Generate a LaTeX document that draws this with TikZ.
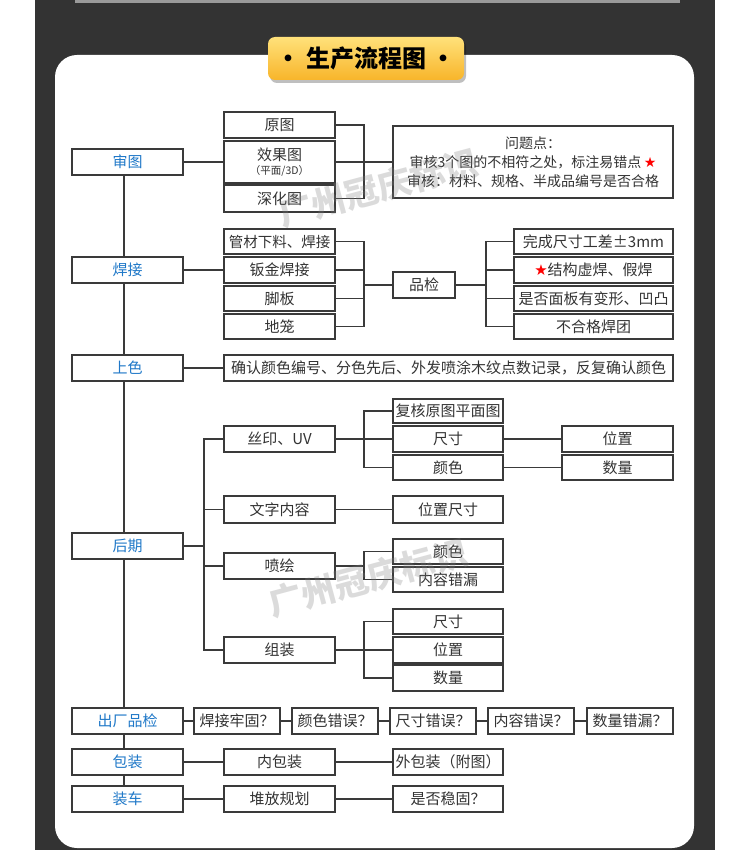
\documentclass[tikz,border=0pt]{standalone}
\usepackage{fontspec}
\setmainfont{Noto Sans CJK SC}
\newfontfamily\symfont{DejaVu Sans}
\definecolor{darkbg}{HTML}{333333}
\definecolor{linec}{HTML}{3A3A3A}
\definecolor{textc}{HTML}{333333}
\definecolor{bluec}{HTML}{1F78C8}
\definecolor{badgetop}{HTML}{FFE17A}
\definecolor{badgebot}{HTML}{F8B52A}
\definecolor{stripc}{HTML}{9A9A9A}
\newcommand{\rstar}{{\symfont\color{red}★}}
\tikzset{
  box/.style={draw=linec, line width=1.3pt, fill=white, minimum width=111pt, minimum height=26pt, inner sep=0pt, text=textc, font=\fontsize{15}{17}\selectfont},
  mainbox/.style={box, text=bluec},
  sbox/.style={box, minimum width=86pt},
  conn/.style={draw=linec, line width=1.3pt},
  wmark/.style={text=gray, opacity=0.28, font=\fontsize{34}{36}\selectfont\bfseries, rotate=15}
}
\begin{document}
\begin{tikzpicture}[x=1pt,y=-1pt]
\useasboundingbox (0,0) rectangle (750,850);
\fill[darkbg] (35,0) rectangle (715,850);
\fill[stripc] (75,0) rectangle (680,3);
\fill[white, rounded corners=22pt] (55,55) rectangle (694,848);
% badge
\fill[black, opacity=0.25, rounded corners=7pt] (270,40) rectangle (466,83);
\shade[top color=badgetop, bottom color=badgebot, rounded corners=7pt] (268,37) rectangle (464,80);
\node[font=\fontsize{24}{26}\selectfont\bfseries, text=black] (title) at (366,58.5) {·\ 生产流程图\ ·};

% coordinates
\coordinate (spx) at (124,0);
\coordinate (b1) at (364,162);
\coordinate (b2) at (364,285);
\coordinate (b3) at (486,285);
\coordinate (b4) at (204,546);
\coordinate (b5) at (364,439);
\coordinate (b6) at (364,566);
\coordinate (b7) at (364,650);

% main column
\node[mainbox] (shentu) at (127.5,162) {审图};
\node[mainbox] (hanjie) at (127.5,270) {焊接};
\node[mainbox] (shangse) at (127.5,368) {上色};
\node[mainbox] (houqi) at (127.5,546) {后期};
\node[mainbox] (chuchang) at (127.5,721) {出厂品检};
\node[mainbox] (baozhuang) at (127.5,762) {包装};
\node[mainbox] (zhuangche) at (127.5,799) {装车};

% 审图
\node[box] (yuantu) at (279.5,125) {原图};
\node[box, minimum height=42pt, align=center] (xiaoguo) at (279.5,162) {效果图\\[-3pt]{\fontsize{10.5}{12}\selectfont （平面/3D）}};
\node[box, minimum height=27pt] (shenhua) at (279.5,198.5) {深化图};
\node[box, minimum width=280pt, minimum height=72pt, align=center, font=\fontsize{14}{19}\selectfont] (wenti) at (533,162) {问题点：\\审核3个图的不相符之处，标注易错点\,\rstar\\审核：材料、规格、半成品编号是否合格};

% 焊接
\node[box, minimum height=25pt, font=\fontsize{14.5}{17}\selectfont] (guancai) at (279.5,241.5) {管材下料、焊接};
\node[box] (banjin) at (279.5,270) {钣金焊接};
\node[box, minimum height=25pt] (jiaoban) at (279.5,298.5) {脚板};
\node[box, minimum height=25pt] (dilong) at (279.5,326.5) {地笼};
\node[box, minimum width=62pt] (pinjian) at (424,285) {品检};
\node[box, minimum width=159pt, minimum height=25pt] (r1) at (593.5,241.5) {完成尺寸工差±3mm};
\node[box, minimum width=159pt] (r2) at (593.5,270) {\rstar 结构虚焊、假焊};
\node[box, minimum width=159pt, minimum height=25pt] (r3) at (593.5,298.5) {是否面板有变形、凹凸};
\node[box, minimum width=159pt, minimum height=25pt] (r4) at (593.5,326.5) {不合格焊团};

% 上色
\node[box, minimum width=449pt] (queren) at (448.5,368) {确认颜色编号、分色先后、外发喷涂木纹点数记录，反复确认颜色};

% 后期
\node[box] (siyin) at (279.5,439) {丝印、UV};
\node[box, minimum width=110pt, minimum height=24pt] (fuhe) at (448,411) {复核原图平面图};
\node[box, minimum width=110pt] (chicun1) at (448,439) {尺寸};
\node[box, minimum width=110pt, minimum height=25pt] (yanse1) at (448,467.5) {颜色};
\node[box] (weizhi1) at (617.5,439) {位置};
\node[box, minimum height=25pt] (shuliang1) at (617.5,467.5) {数量};
\node[box, minimum height=27pt] (wenzi) at (279.5,509.5) {文字内容};
\node[box, minimum width=110pt, minimum height=27pt] (wzcc) at (448,509.5) {位置尺寸};
\node[box] (penhui) at (279.5,566) {喷绘};
\node[box, minimum width=110pt, minimum height=25pt] (yanse2) at (448,551.5) {颜色};
\node[box, minimum width=110pt, minimum height=25pt] (cuolou) at (448,579.5) {内容错漏};
\node[box] (zuzhuang) at (279.5,650) {组装};
\node[box, minimum width=110pt, minimum height=25pt] (chicun2) at (448,621.5) {尺寸};
\node[box, minimum width=110pt] (weizhi2) at (448,650) {位置};
\node[box, minimum width=110pt] (shuliang2) at (448,678) {数量};

% 出厂品检
\node[sbox] (q1) at (237,721) {焊接牢固？};
\node[sbox] (q2) at (335,721) {颜色错误？};
\node[sbox] (q3) at (433,721) {尺寸错误？};
\node[sbox] (q4) at (531,721) {内容错误？};
\node[sbox] (q5) at (630,721) {数量错漏？};

% 包装 / 装车
\node[box] (neibao) at (279.5,762) {内包装};
\node[box, minimum width=110pt] (waibao) at (448,762) {外包装（附图）};
\node[box] (duifang) at (279.5,799) {堆放规划};
\node[box, minimum width=110pt] (wengu) at (448,799) {是否稳固？};

% spine
\draw[conn] (shentu.south -| spx) -- (hanjie.north -| spx);
\draw[conn] (hanjie.south -| spx) -- (shangse.north -| spx);
\draw[conn] (shangse.south -| spx) -- (houqi.north -| spx);
\draw[conn] (houqi.south -| spx) -- (chuchang.north -| spx);
\draw[conn] (chuchang.south -| spx) -- (baozhuang.north -| spx);
\draw[conn] (baozhuang.south -| spx) -- (zhuangche.north -| spx);

% 审图 connectors
\draw[conn] (shentu.east) -- (xiaoguo.west);
\draw[conn] (yuantu.east) -| (b1) |- (shenhua.east);
\draw[conn] (xiaoguo.east) -- (wenti.west);

% 焊接 connectors
\draw[conn] (hanjie.east) -- (banjin.west);
\draw[conn] (guancai.east) -| (b2) |- (dilong.east);
\draw[conn] (banjin.east) -| (b2);
\draw[conn] (jiaoban.east) -| (b2);
\draw[conn] (b2) -- (pinjian.west);
\draw[conn] (pinjian.east) -- (b3);
\draw[conn] (b3) |- (r1.west);
\draw[conn] (b3) |- (r2.west);
\draw[conn] (b3) |- (r3.west);
\draw[conn] (b3) |- (r4.west);

% 上色
\draw[conn] (shangse.east) -- (queren.west);

% 后期
\draw[conn] (houqi.east) -- (b4);
\draw[conn] (b4) |- (siyin.west);
\draw[conn] (b4) |- (wenzi.west);
\draw[conn] (b4) |- (penhui.west);
\draw[conn] (b4) |- (zuzhuang.west);
\draw[conn] (siyin.east) -- (chicun1.west);
\draw[conn] (b5) |- (fuhe.west);
\draw[conn] (b5) |- (yanse1.west);
\draw[conn] (chicun1.east) -- (weizhi1.west);
\draw[conn] (yanse1.east) -- (shuliang1.west);
\draw[conn] (wenzi.east) -- (wzcc.west);
\draw[conn] (penhui.east) -- (b6);
\draw[conn] (b6) |- (yanse2.west);
\draw[conn] (b6) |- (cuolou.west);
\draw[conn] (zuzhuang.east) -- (weizhi2.west);
\draw[conn] (b7) |- (chicun2.west);
\draw[conn] (b7) |- (shuliang2.west);

% 出厂品检 chain
\draw[conn] (chuchang.east) -- (q1.west);
\draw[conn] (q1.east) -- (q2.west);
\draw[conn] (q2.east) -- (q3.west);
\draw[conn] (q3.east) -- (q4.west);
\draw[conn] (q4.east) -- (q5.west);

% 包装 / 装车
\draw[conn] (baozhuang.east) -- (neibao.west);
\draw[conn] (neibao.east) -- (waibao.west);
\draw[conn] (zhuangche.east) -- (duifang.west);
\draw[conn] (duifang.east) -- (wengu.west);

% watermarks
\node[wmark] (wm1) at (378,188) {广州冠庆标识};
\node[wmark] (wm2) at (368,578) {广州冠庆标识};
\end{tikzpicture}
\end{document}
